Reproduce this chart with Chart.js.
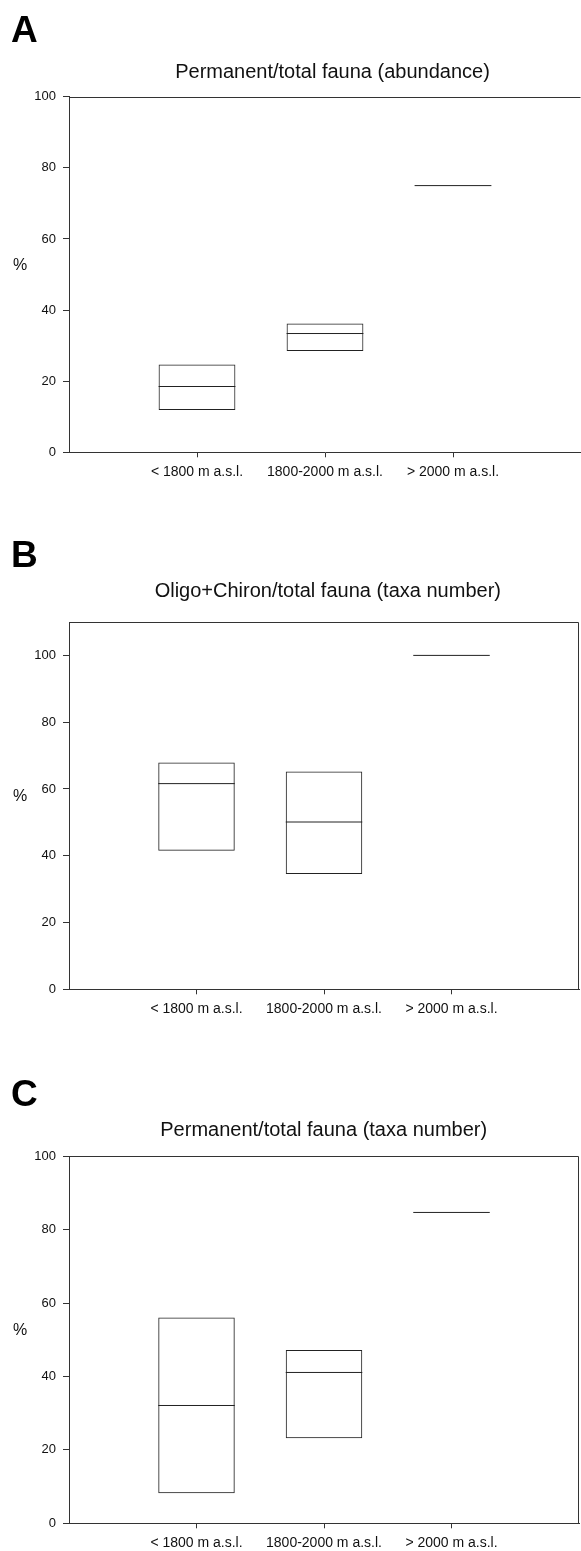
<!DOCTYPE html>
<html>
<head>
<meta charset="utf-8">
<script src="https://cdn.jsdelivr.net/npm/chart.js@4.4.0/dist/chart.umd.min.js"></script>
<style>
  html, body { margin: 0; padding: 0; background: #fff; overflow: hidden; }
  canvas { display: block; }
</style>
</head>
<body>
<canvas id="chartA" width="581" height="517"></canvas>
<canvas id="chartB" width="581" height="517"></canvas>
<canvas id="chartC" width="581" height="517"></canvas>
<script>
// categories shared by the three panels
const categories = ['< 1800 m a.s.l.', '1800-2000 m a.s.l.', '> 2000 m a.s.l.'];
const panelLetters = ['A', 'B', 'C'];
const panelTitles = [
  'Permanent/total fauna (abundance)',
  'Oligo+Chiron/total fauna (taxa number)',
  'Permanent/total fauna (taxa number)'
];
const yTitle = '%';

// box values (lower edge, median, upper edge)
const lowA = [11.9, 28.5, 75];
const medA = [18.5, 33.4, 75];
const highA = [24.7, 36.2, 75];

const lowB = [41.5, 34.5, 100];
const medB = [61.6, 50.1, 100];
const highB = [67.9, 65.2, 100];

const lowC = [8.2, 23.2, 84.7];
const medC = [32.1, 41.1, 84.7];
const highC = [56.1, 47.2, 84.7];

const yTicks = [0, 20, 40, 60, 80, 100];
const yMax = [100, 110, 100];

// placement of each panel inside its canvas
// (panel A's right frame is cut off in the original)
const layoutInfo = [
  { top: 96.7, bottom: 452.3, right: 581, frameRight: false, letterY: 41.7, titleX: 332.5, titleY: 78.3, unitY: 266 },
  { top: 105, bottom: 472.3, right: 579, frameRight: true, letterY: 49.7, titleX: 327.8, titleY: 79.7, unitY: 279.7 },
  { top: 122.3, bottom: 489.3, right: 579, frameRight: true, letterY: 72.3, titleX: 323.7, titleY: 102, unitY: 297 }
];

const FONT = "'Liberation Sans', Arial, Helvetica, sans-serif";
const LINE = '#333';
const BOX_FRAC = 0.6;
const X_AXIS_H = 25;
const CANVAS_H = 517;

const panelText = {
  id: 'panelText',
  afterDraw(chart, args, opts) {
    const ctx = chart.ctx;
    const a = chart.chartArea;
    ctx.save();
    // top and right frame lines
    ctx.strokeStyle = LINE;
    ctx.lineWidth = 1;
    ctx.beginPath();
    ctx.moveTo(Math.round(a.left) + 0.5, Math.round(a.top) + 0.5);
    ctx.lineTo(Math.round(a.right) - 0.5, Math.round(a.top) + 0.5);
    if (opts.frameRight) {
      ctx.lineTo(Math.round(a.right) - 0.5, Math.round(a.bottom));
    }
    ctx.stroke();

    ctx.fillStyle = '#000';
    ctx.textBaseline = 'alphabetic';
    ctx.textAlign = 'left';
    ctx.font = 'bold 37px ' + FONT;
    ctx.fillText(opts.letter, 11, opts.letterY);

    ctx.textAlign = 'center';
    ctx.font = '20px ' + FONT;
    ctx.fillStyle = '#111';
    ctx.fillText(opts.title, opts.titleX, opts.titleY);

    ctx.textBaseline = 'middle';
    ctx.font = '16px ' + FONT;
    ctx.fillText(yTitle, 20, opts.unitY);
    ctx.restore();
  }
};

function makePanel(id, idx, low, med, high) {
  const L = layoutInfo[idx];
  const boxes = categories.map((c, i) => ({ x: i + 1, y: [low[i], high[i]] }));
  const medians = categories.map((c, i) => ({ x: i + 1, y: med[i] }));

  new Chart(document.getElementById(id), {
    type: 'bar',
    data: {
      datasets: [{
        data: boxes,
        backgroundColor: 'rgba(255,255,255,0)',
        borderColor: '#222',
        borderWidth: 1,
        borderSkipped: false,
        barPercentage: BOX_FRAC,
        categoryPercentage: 1
      }, {
        type: 'scatter',
        data: medians,
        pointStyle: 'line',
        borderColor: '#222',
        borderWidth: 1,
        pointRadius: (c) => {
          const s = c.chart.scales.x;
          return (s.getPixelForValue(1) - s.getPixelForValue(0)) * BOX_FRAC / 2;
        }
      }]
    },
    options: {
      responsive: false,
      animation: false,
      events: [],
      layout: {
        padding: { top: L.top, bottom: CANVAS_H - L.bottom - X_AXIS_H, left: 0, right: 581 - L.right }
      },
      plugins: {
        legend: { display: false },
        title: { display: false },
        tooltip: { enabled: false },
        panelText: {
          letter: panelLetters[idx], title: panelTitles[idx], frameRight: L.frameRight,
          letterY: L.letterY, titleX: L.titleX, titleY: L.titleY, unitY: L.unitY
        }
      },
      scales: {
        x: {
          type: 'linear',
          offset: false,
          min: 0,
          max: categories.length + 1,
          afterBuildTicks: (s) => { s.ticks = categories.map((c, i) => ({ value: i + 1 })); },
          afterFit: (s) => { s.height = X_AXIS_H; },
          ticks: {
            callback: (v) => categories[v - 1],
            color: '#111',
            font: { family: FONT, size: 14 },
            padding: 6,
            maxRotation: 0,
            autoSkip: false
          },
          grid: { offset: false, drawOnChartArea: false, drawTicks: true, tickLength: 5, color: LINE },
          border: { display: true, color: LINE, width: 1 }
        },
        y: {
          min: 0,
          max: yMax[idx],
          afterBuildTicks: (s) => { s.ticks = yTicks.map(v => ({ value: v })); },
          afterFit: (s) => { s.width = 69; },
          ticks: {
            color: '#111',
            font: { family: FONT, size: 13 },
            padding: 7
          },
          grid: { drawOnChartArea: false, drawTicks: true, tickLength: 6, color: LINE },
          border: { display: true, color: LINE, width: 1 }
        }
      }
    },
    plugins: [panelText]
  });
}

makePanel('chartA', 0, lowA, medA, highA);
makePanel('chartB', 1, lowB, medB, highB);
makePanel('chartC', 2, lowC, medC, highC);
</script>
</body>
</html>
